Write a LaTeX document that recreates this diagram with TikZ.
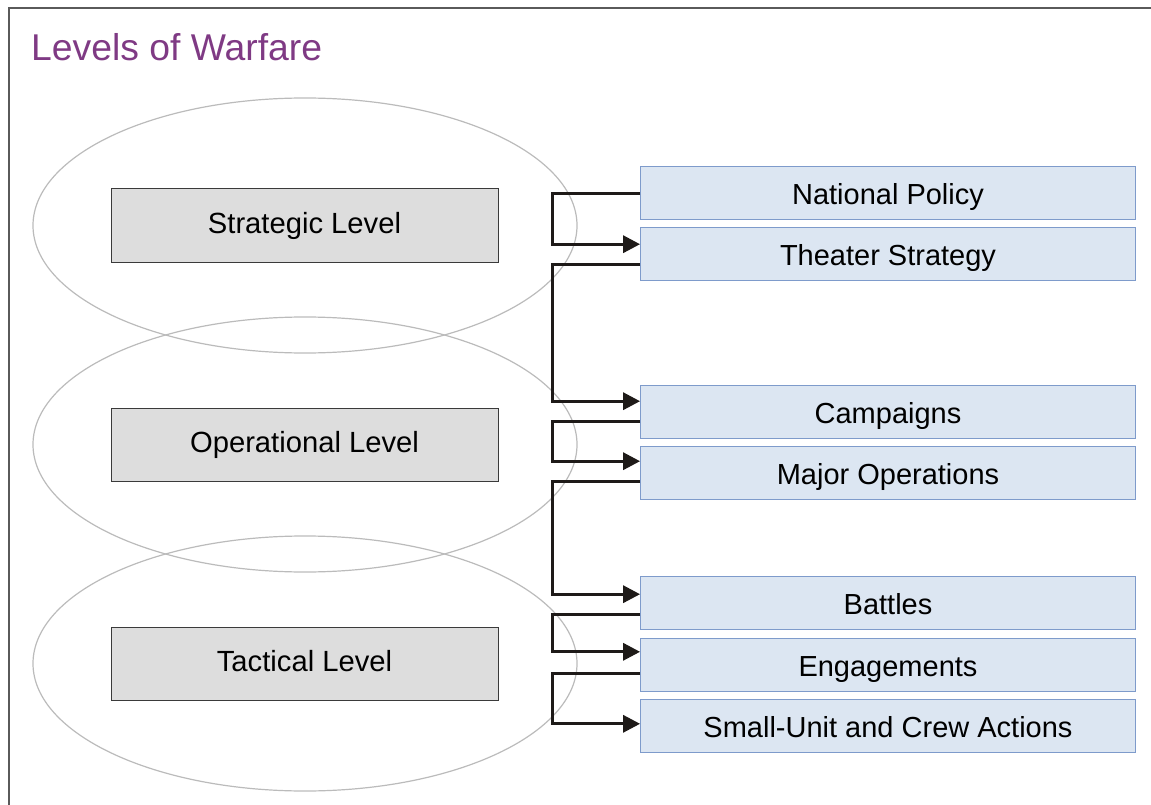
\documentclass[tikz,border=0pt]{standalone}
\usepackage{fontspec}
\setmainfont{Liberation Sans}
\usetikzlibrary{arrows.meta}
\definecolor{titlepurple}{HTML}{7F3A84}
\definecolor{greyfill}{HTML}{DDDDDD}
\definecolor{greyline}{HTML}{3A3A3A}
\definecolor{bluefill}{HTML}{DCE6F2}
\definecolor{blueline}{HTML}{7E9BCB}
\definecolor{ellline}{HTML}{BBBBBB}
\definecolor{frameline}{HTML}{5A5A5A}
\definecolor{conn}{HTML}{1E1A18}
\tikzset{
  gbox/.style={draw=greyline, fill=greyfill, line width=1pt, minimum width=387pt, minimum height=73pt, inner sep=0pt, font=\fontsize{29.2}{34}\selectfont, text height=16.4pt, text depth=0pt},
  bbox/.style={draw=blueline, fill=bluefill, line width=1.2pt, minimum width=494.6pt, minimum height=52.8pt, inner sep=0pt, font=\fontsize{29}{34}\selectfont, text height=22.4pt, text depth=0pt},
  lvl/.style={draw=ellline, line width=1.2pt},
  conn/.style={draw=conn, line width=3.2pt, -{Triangle[length=17pt, width=17pt]}},
  frame/.style={draw=frameline, line width=2pt}
}
\begin{document}
\begin{tikzpicture}[x=1pt, y=-1pt]
\useasboundingbox (0,0) rectangle (1151,805);
\draw[frame] (8.5,805) -- (8.5,8.5) -- (1151,8.5);
\node[anchor=base west, text=titlepurple, font=\fontsize{37.3}{44}\selectfont, inner sep=0pt] (title) at (31,61) {Levels of Warfare};
% ellipses
\draw[lvl] (305,225.5) ellipse [x radius=272pt, y radius=127.5pt];
\draw[lvl] (305,444.5) ellipse [x radius=272pt, y radius=127.5pt];
\draw[lvl] (305,663.5) ellipse [x radius=272pt, y radius=127.5pt];
% grey level boxes
\node[gbox] (sl) at (304.5,225.5) {Strategic Level};
\node[gbox] (ol) at (304.5,444.5) {Operational Level};
\node[gbox] (tl) at (304.5,663.5) {Tactical Level};
% blue boxes
\node[bbox] (np) at (888,193.3) {National Policy};
\node[bbox] (ts) at (888,254.2) {Theater Strategy};
\node[bbox] (cp) at (888,412.2) {Campaigns};
\node[bbox] (mo) at (888,473.2) {Major Operations};
\node[bbox] (bt) at (888,603.2) {Battles};
\node[bbox] (en) at (888,664.8) {Engagements};
\node[bbox] (su) at (888,725.8) {Small-Unit and Crew Actions};
% connectors
\draw[conn] ([yshift=-27pt]np.north west) -- ++(-88,0) |- ([yshift=-17pt]ts.north west);
\draw[conn] ([yshift=-37pt]ts.north west) -- ++(-88,0) |- ([yshift=-16pt]cp.north west);
\draw[conn] ([yshift=-36pt]cp.north west) -- ++(-88,0) |- ([yshift=-15pt]mo.north west);
\draw[conn] ([yshift=-35pt]mo.north west) -- ++(-88,0) |- ([yshift=-18pt]bt.north west);
\draw[conn] ([yshift=-38pt]bt.north west) -- ++(-88,0) |- ([yshift=-14pt]en.north west);
\draw[conn] ([yshift=-36pt]en.north west) -- ++(-88,0) |- ([yshift=-25pt]su.north west);
\end{tikzpicture}
\end{document}
